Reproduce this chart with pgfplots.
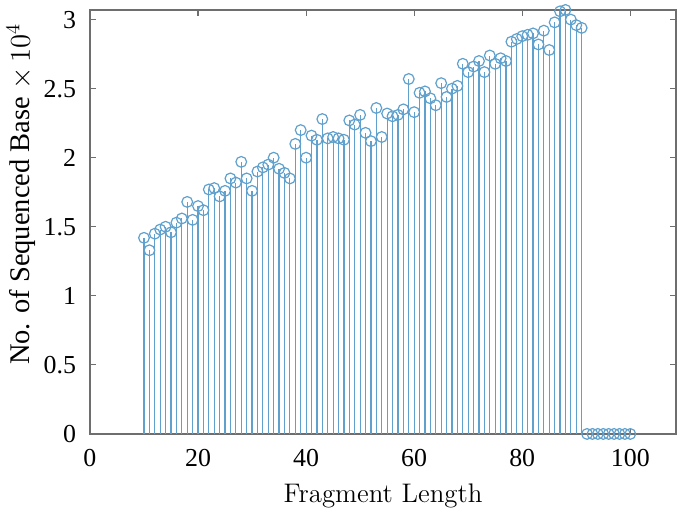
\documentclass[border=0pt]{standalone}
\usepackage{fontspec}
\usepackage{pgfplots}
\pgfplotsset{compat=1.18}
\newfontfamily\tnr{Liberation Serif}
\definecolor{stemblue}{RGB}{95,160,205}
\definecolor{axgray}{RGB}{110,110,110}
\begin{document}
\begin{tikzpicture}
\begin{axis}[
  scale only axis,
  width=294.5pt, height=213pt,
  xmin=0, xmax=108.5, ymin=0, ymax=3.07,
  xtick={0,20,40,60,80,100},
  ytick={0,0.5,1,1.5,2,2.5,3},
  yticklabels={0,0.5,1,1.5,2,2.5,3},
  tick align=inside,
  major tick length=3pt,
  axis line style={axgray, line width=0.8pt},
  every tick/.style={axgray, line width=0.6pt},
  /pgf/number format/assume math mode=true,
  ticklabel style={font=\tnr\fontsize{13}{15}\selectfont},
  xticklabel style={yshift=-4pt},
  yticklabel style={xshift=-3.5pt},
  xlabel={Fragment Length},
  xlabel style={font=\fontsize{13.5}{16}\selectfont, yshift=-2pt},
  ylabel={No. of Sequenced Base $\times\,10^4$},
  ylabel style={font=\tnr\fontsize{14.3}{16}\selectfont, at={(ticklabel cs:0.565)}, yshift=-3pt},
]
\addplot[ycomb, color=stemblue, line width=0.6pt, mark=o, mark size=2.7pt,
  mark options={stemblue, line width=0.6pt}] coordinates {
(10,1.42)(11,1.33)(12,1.45)(13,1.48)(14,1.50)(15,1.46)(16,1.53)(17,1.56)(18,1.68)(19,1.55)
(20,1.65)(21,1.62)(22,1.77)(23,1.78)(24,1.72)(25,1.76)(26,1.85)(27,1.82)(28,1.97)(29,1.85)
(30,1.76)(31,1.90)(32,1.93)(33,1.95)(34,2.00)(35,1.92)(36,1.89)(37,1.85)(38,2.10)(39,2.20)
(40,2.00)(41,2.16)(42,2.13)(43,2.28)(44,2.14)(45,2.15)(46,2.14)(47,2.13)(48,2.27)(49,2.24)
(50,2.31)(51,2.18)(52,2.12)(53,2.36)(54,2.15)(55,2.32)(56,2.30)(57,2.31)(58,2.35)(59,2.57)
(60,2.33)(61,2.47)(62,2.48)(63,2.43)(64,2.38)(65,2.54)(66,2.44)(67,2.50)(68,2.52)(69,2.68)
(70,2.62)(71,2.66)(72,2.70)(73,2.62)(74,2.74)(75,2.68)(76,2.72)(77,2.70)(78,2.84)(79,2.86)
(80,2.88)(81,2.89)(82,2.90)(83,2.82)(84,2.92)(85,2.78)(86,2.98)(87,3.06)(88,3.07)(89,3.00)
(90,2.96)(91,2.94)(92,0)(93,0)(94,0)(95,0)(96,0)(97,0)(98,0)(99,0)(100,0)
};
\end{axis}
\path ([yshift=5pt]current axis.north west);
\path ([yshift=-42.5pt]current axis.south west);
\end{tikzpicture}
\end{document}
